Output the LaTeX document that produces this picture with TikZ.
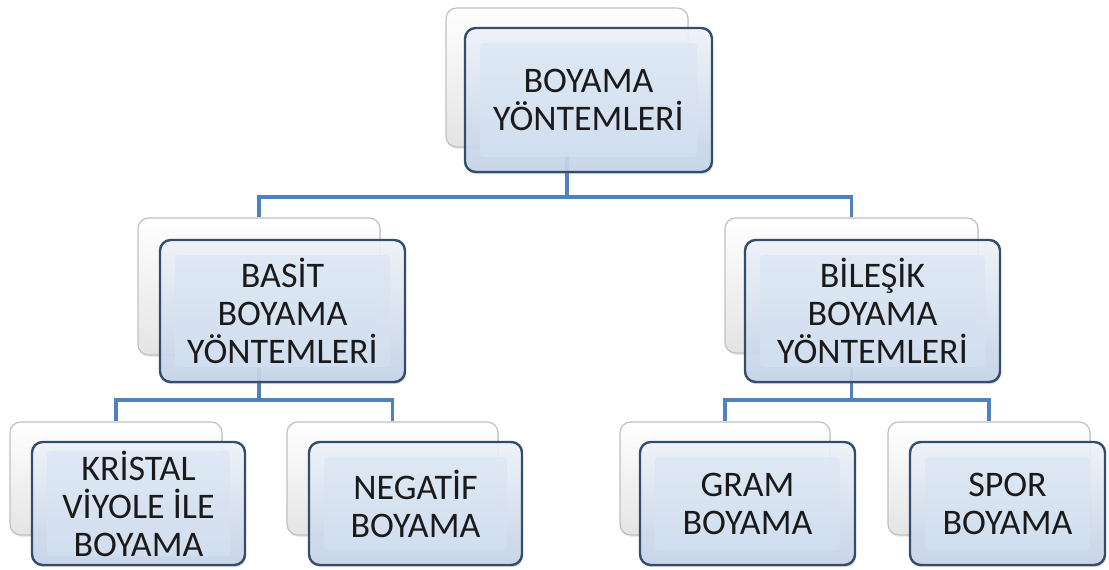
\documentclass[tikz,border=0pt]{standalone}
\usepackage{fontspec}
\setmainfont{Carlito}
\usetikzlibrary{shadows,backgrounds}

\definecolor{linkblue}{RGB}{79,129,189}
\definecolor{edgeblue}{RGB}{50,78,108}
\definecolor{bandtop}{RGB}{242,246,252}
\definecolor{bandbot}{RGB}{198,213,233}
\definecolor{facetop}{RGB}{222,232,245}
\definecolor{facebot}{RGB}{210,223,240}
\definecolor{backedge}{RGB}{192,192,192}
\definecolor{backbot}{RGB}{228,228,228}
\definecolor{inkgray}{RGB}{26,26,26}

\tikzset{every picture/.style={line width=0.75pt}}
\tikzset{
  boxsize/.style 2 args={minimum width={#1*0.75pt}, minimum height={#2*0.75pt}},
  backbox/.style={draw=backedge, line width=0.9pt, rounded corners=8pt, inner sep=0pt,
    top color=white, bottom color=backbot,
    drop shadow={opacity=0.18, shadow xshift=0.8pt, shadow yshift=-1.4pt}},
  frontbox/.style={draw=edgeblue, line width=1.8pt, rounded corners=8pt, inner sep=0pt,
    top color=bandtop, bottom color=bandbot, fill opacity=0.9,
    drop shadow={opacity=0.3, shadow xshift=0.8pt, shadow yshift=-1.6pt}},
  face/.style={rounded corners=3pt, inner sep=0pt, top color=facetop, bottom color=facebot,
    fill opacity=0.9, text opacity=1,
    align=center, text=inkgray, font=\fontsize{27}{28.5}\selectfont},
  link/.style={draw=linkblue, line width=2.6pt}
}

\begin{document}
\begin{tikzpicture}[x=0.75pt,y=0.75pt,yscale=-1,xscale=1]
\useasboundingbox (0,0) rectangle (1109,570);

%Shape: Back Rectangles
\node [backbox, boxsize={242}{139}] (b0) at (567,77.5) {};
\node [backbox, boxsize={242}{137}] (b1) at (259,286.5) {};
\node [backbox, boxsize={253}{135}] (b2) at (851.5,285.5) {};
\node [backbox, boxsize={212}{113}] (b3) at (116,478.5) {};
\node [backbox, boxsize={211}{113}] (b4) at (392.5,478.5) {};
\node [backbox, boxsize={210}{113}] (b5) at (725,478.5) {};
\node [backbox, boxsize={202}{113}] (b6) at (989,478.5) {};

%Shape: Front Rectangles
\node [frontbox, boxsize={247}{144}] (f0) at (588.5,100) {};
\node [frontbox, boxsize={245}{142}] (f1) at (282.5,311) {};
\node [frontbox, boxsize={255}{142}] (f2) at (872.5,311) {};
\node [frontbox, boxsize={213}{123}] (f3) at (138.5,503.5) {};
\node [frontbox, boxsize={213}{123}] (f4) at (415.5,503.5) {};
\node [frontbox, boxsize={215}{123}] (f5) at (747.5,503.5) {};
\node [frontbox, boxsize={195}{123}] (f6) at (1007.5,503.5) {};

% Text Node
\node [face, boxsize={217}{114}] (t0) at (f0) {BOYAMA\\YÖNTEMLERİ};
% Text Node
\node [face, boxsize={215}{112}] (t1) at (f1) {BASİT\\BOYAMA\\YÖNTEMLERİ};
% Text Node
\node [face, boxsize={225}{112}] (t2) at (f2) {BİLEŞİK\\BOYAMA\\YÖNTEMLERİ};
% Text Node
\node [face, boxsize={183}{93}] (t3) at (f3) {KRİSTAL\\VİYOLE İLE\\BOYAMA};
% Text Node
\node [face, boxsize={183}{93}] (t4) at (f4) {NEGATİF\\BOYAMA};
% Text Node
\node [face, boxsize={185}{93}] (t5) at (f5) {GRAM\\BOYAMA};
% Text Node
\node [face, boxsize={165}{93}] (t6) at (f6) {SPOR\\BOYAMA};

%Straight Lines
\coordinate (bus0) at (567,197);
\coordinate (bus1) at (259,400);
\coordinate (bus2) at (851.5,400);
\begin{scope}[on background layer]
\draw [link] (b0) -- (bus0) -| (b1);
\draw [link] (bus0) -| (b2);
\draw [link] (b1.center) -- (bus1) -| (b3);
\draw [link] (bus1) -| (b4);
\draw [link] (b2.center) -- (bus2) -| (b5);
\draw [link] (bus2) -| (b6);
\end{scope}

\end{tikzpicture}
\end{document}
